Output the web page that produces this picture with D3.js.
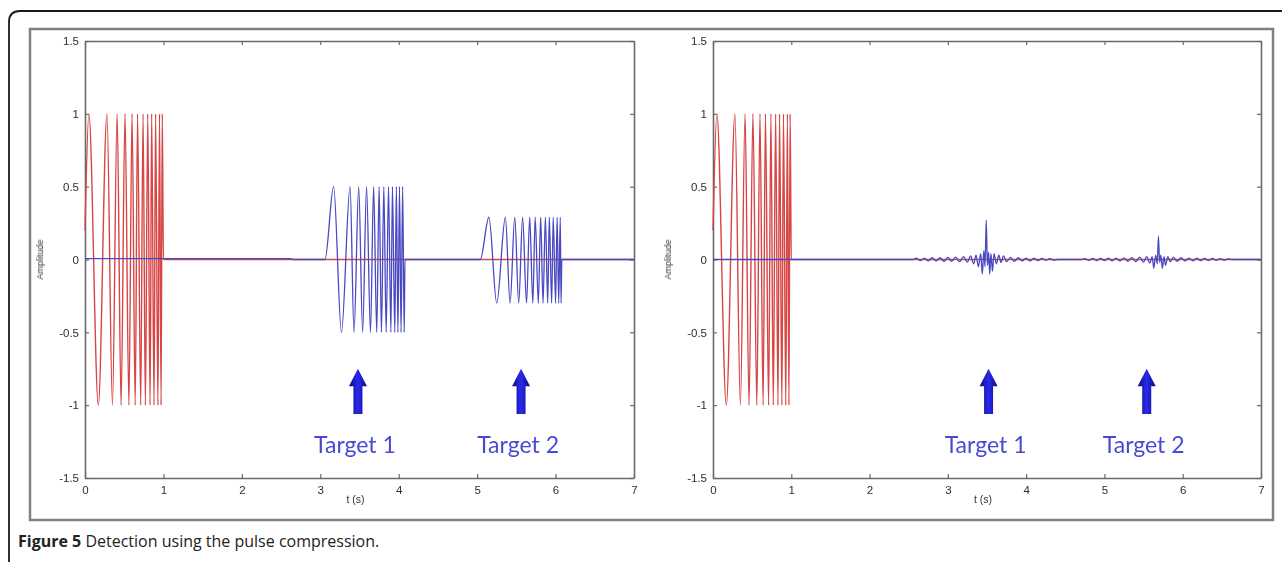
<!DOCTYPE html>
<html>
<head>
<meta charset="utf-8">
<script src="https://cdn.jsdelivr.net/npm/d3@7"></script>
<style>
  body { margin: 0; background: #fff; }
  svg { display: block; }
</style>
</head>
<body>
<script>
//////////////////////////////////////////////
// Data //////////////////////////////////////
//////////////////////////////////////////////
// transmitted chirp (red), extrema: [t, amplitude]
var txPulse = [
	[0, 0.2], [0.05, 1], [0.17, -1], [0.28, 1], [0.35, -1], [0.41, 1], [0.46, -1],
	[0.51, 1], [0.56, -1], [0.60, 1], [0.64, -1], [0.67, 1], [0.71, -1], [0.74, 1],
	[0.77, -1], [0.80, 1], [0.83, -1], [0.85, 1], [0.88, -1], [0.90, 1], [0.93, -1],
	[0.95, 1], [0.97, -1], [0.985, 1], [1.0, 0], [7, 0]
];

// received echoes before compression (blue, left panel)
var rxRaw = [
	[0, 0.006], [2.62, 0.006], [2.66, 0], [3.06, 0],
	[3.17, 0.5], [3.27, -0.5], [3.38, 0.5], [3.43, -0.5], [3.49, 0.5], [3.54, -0.5],
	[3.59, 0.5], [3.64, -0.5], [3.68, 0.5], [3.72, -0.5], [3.75, 0.5], [3.78, -0.5],
	[3.81, 0.5], [3.84, -0.5], [3.87, 0.5], [3.90, -0.5], [3.92, 0.5], [3.95, -0.5],
	[3.97, 0.5], [3.99, -0.5], [4.01, 0.5], [4.03, -0.5], [4.05, 0.5], [4.07, -0.5],
	[4.08, 0], [5.04, 0],
	[5.15, 0.29], [5.25, -0.3], [5.36, 0.29], [5.42, -0.3], [5.48, 0.29], [5.53, -0.3],
	[5.58, 0.29], [5.63, -0.3], [5.67, 0.29], [5.71, -0.3], [5.74, 0.29], [5.78, -0.3],
	[5.81, 0.29], [5.84, -0.3], [5.87, 0.29], [5.90, -0.3], [5.92, 0.29], [5.95, -0.3],
	[5.97, 0.29], [6.00, -0.3], [6.02, 0.29], [6.04, -0.3], [6.06, 0.29], [6.07, -0.3],
	[6.08, 0], [7, 0]
];

// compressed output (blue, right panel)
var rxCompressed = [
	[0, 0], [2.55, 0], [2.60, 0.01], [2.65, -0.008], [2.70, 0.01], [2.75, -0.01],
	[2.80, 0.012], [2.85, -0.01], [2.90, 0.012], [2.95, -0.012], [3.00, 0.014],
	[3.05, -0.012], [3.10, 0.016], [3.15, -0.015], [3.20, 0.02], [3.25, -0.018],
	[3.29, 0.025], [3.33, -0.03], [3.36, 0.03], [3.39, -0.05], [3.42, 0.04],
	[3.44, -0.1], [3.46, 0.06], [3.475, -0.05], [3.49, 0.27], [3.505, -0.04],
	[3.52, 0.05], [3.535, -0.1], [3.55, 0.04], [3.57, -0.08], [3.59, 0.04],
	[3.62, -0.03], [3.65, 0.03], [3.68, -0.02], [3.71, 0.025], [3.75, -0.015],
	[3.80, 0.015], [3.85, -0.012], [3.90, 0.012], [3.95, -0.01], [4.00, 0.01],
	[4.05, -0.01], [4.10, 0.01], [4.15, -0.008], [4.20, 0.008], [4.25, -0.006],
	[4.30, 0.006], [4.35, -0.004], [4.40, 0], [4.70, 0],
	[4.75, 0.006], [4.80, -0.006], [4.85, 0.007], [4.90, -0.007], [4.95, 0.008],
	[5.00, -0.008], [5.05, 0.009], [5.10, -0.009], [5.15, 0.01], [5.20, -0.01],
	[5.25, 0.011], [5.30, -0.012], [5.35, 0.013], [5.40, -0.014], [5.45, 0.016],
	[5.50, -0.018], [5.54, 0.02], [5.58, -0.025], [5.61, 0.02], [5.63, -0.06],
	[5.655, 0.03], [5.675, -0.03], [5.69, 0.16], [5.705, -0.02], [5.72, 0.03],
	[5.74, -0.06], [5.76, 0.02], [5.78, -0.04], [5.81, 0.02], [5.84, -0.015],
	[5.88, 0.015], [5.93, -0.012], [5.98, 0.012], [6.03, -0.01], [6.08, 0.01],
	[6.13, -0.009], [6.18, 0.009], [6.23, -0.008], [6.28, 0.008], [6.33, -0.007],
	[6.38, 0.007], [6.43, -0.006], [6.48, 0.006], [6.53, -0.005], [6.58, 0.004],
	[6.63, 0], [7, 0]
];

// tick values
var xTicks = [0, 1, 2, 3, 4, 5, 6, 7];
var yTicks = [-1.5, -1, -0.5, 0, 0.5, 1, 1.5];

// target annotations per panel: [t of arrow, label]
var leftTargets = [[3.48, "Target 1"], [5.56, "Target 2"]];
var rightTargets = [[3.52, "Target 1"], [5.54, "Target 2"]];

//////////////////////////////////////////////
// Chart Config /////////////////////////////
//////////////////////////////////////////////
var W = 1282, H = 562;

var svg = d3.select("body").append("svg")
	.attr("width", W)
	.attr("height", H);

var defs = svg.append("defs");

// slight blur to mimic the scanned figure
defs.append("filter").attr("id", "soft")
	.append("feGaussianBlur").attr("stdDeviation", 0.45);

// shading of the arrows
var grad = defs.append("linearGradient").attr("id", "arrowGrad")
	.attr("x1", "0%").attr("x2", "100%").attr("y1", "0%").attr("y2", "0%");
grad.append("stop").attr("offset", "0%").attr("stop-color", "#0c0c7a");
grad.append("stop").attr("offset", "50%").attr("stop-color", "#2a2af0");
grad.append("stop").attr("offset", "100%").attr("stop-color", "#0c0c7a");

svg.append("rect").attr("width", W).attr("height", H).attr("fill", "#fff");

// outer journal frame (rounded top-left corner)
svg.append("path")
	.attr("d", "M" + W + ",11 H20 Q9,11 9,22 V" + H)
	.attr("fill", "none")
	.attr("stroke", "#1a1a1a")
	.attr("stroke-width", 1.8);

// grey border around the screenshot
svg.append("rect")
	.attr("x", 30).attr("y", 29)
	.attr("width", 1243).attr("height", 491)
	.attr("fill", "none")
	.attr("stroke", "#808080")
	.attr("stroke-width", 2.5);

//////////////////////////////////////////////
// Drawing ///////////////////////////////////
//////////////////////////////////////////////
function drawPanel(left, right, blueData, targets) {
	var top = 41, bottom = 478;

	var xScale = d3.scaleLinear().domain([0, 7]).range([left, right]);
	var yScale = d3.scaleLinear().domain([-1.5, 1.5]).range([bottom, top]);

	var g = svg.append("g").attr("filter", "url(#soft)");

	var fmt = function(d) { return String(d); };

	// box axes, ticks pointing inwards like matlab
	var axB = g.append("g").attr("transform", "translate(0," + bottom + ")")
		.call(d3.axisBottom(xScale).tickValues(xTicks).tickFormat(fmt)
			.tickSizeInner(-4).tickSizeOuter(0).tickPadding(8));
	var axT = g.append("g").attr("transform", "translate(0," + top + ")")
		.call(d3.axisTop(xScale).tickValues(xTicks).tickFormat("")
			.tickSizeInner(-4).tickSizeOuter(0));
	var axL = g.append("g").attr("transform", "translate(" + left + ",0)")
		.call(d3.axisLeft(yScale).tickValues(yTicks).tickFormat(fmt)
			.tickSizeInner(-4).tickSizeOuter(0).tickPadding(6));
	var axR = g.append("g").attr("transform", "translate(" + right + ",0)")
		.call(d3.axisRight(yScale).tickValues(yTicks).tickFormat("")
			.tickSizeInner(-4).tickSizeOuter(0));

	[axB, axT, axL, axR].forEach(function(a) {
		a.selectAll(".domain").attr("stroke", "#6a6a6a").attr("stroke-width", 1.6);
		a.selectAll(".tick line").attr("stroke", "#6a6a6a").attr("stroke-width", 1.2);
		a.selectAll("text")
			.attr("fill", "#2e2e2e")
			.style("font-family", "'Liberation Sans', Arial, sans-serif")
			.style("font-size", "11.5px");
	});

	// axis labels
	g.append("text")
		.attr("x", (left + right) / 2 - 4).attr("y", 503)
		.attr("text-anchor", "middle")
		.attr("fill", "#333")
		.style("font-family", "'Liberation Sans', Arial, sans-serif")
		.style("font-size", "10.5px")
		.text("t (s)");

	g.append("text")
		.attr("transform", "translate(" + (left - 42) + "," + yScale(0) + ") rotate(-90)")
		.attr("text-anchor", "middle")
		.attr("fill", "#333")
		.style("font-family", "'Liberation Sans', Arial, sans-serif")
		.style("font-size", "9px")
		.text("Amplitude");

	var line = d3.line()
		.x(function(d) { return xScale(d[0]); })
		.y(function(d) { return yScale(d[1]); })
		.curve(d3.curveMonotoneX);

	// red transmitted chirp
	g.append("path").datum(txPulse)
		.attr("d", line)
		.attr("fill", "none")
		.attr("stroke", "#d84444")
		.attr("stroke-width", 1.4);

	// blue received signal
	g.append("path").datum(blueData)
		.attr("d", line)
		.attr("fill", "none")
		.attr("stroke", "#4848c4")
		.attr("stroke-width", 1.3);

	// arrows + labels
	targets.forEach(function(t) {
		var cx = xScale(t[0]);
		var yTop = yScale(-0.75), yHead = yScale(-0.87), yBot = yScale(-1.06);
		g.append("path")
			.attr("d", "M" + cx + "," + yTop +
				" L" + (cx + 9) + "," + yHead +
				" L" + (cx + 4.5) + "," + yHead +
				" L" + (cx + 4.5) + "," + yBot +
				" L" + (cx - 4.5) + "," + yBot +
				" L" + (cx - 4.5) + "," + yHead +
				" L" + (cx - 9) + "," + yHead + " Z")
			.attr("fill", "url(#arrowGrad)");

		g.append("text")
			.attr("x", cx - 3).attr("y", yScale(-1.325))
			.attr("text-anchor", "middle")
			.attr("fill", "#4a4ad6")
			.style("font-family", "Lato, 'Open Sans', sans-serif")
			.style("font-size", "23px")
			.text(t[1]);
	});
}

drawPanel(85, 634, rxRaw, leftTargets);
drawPanel(713, 1261, rxCompressed, rightTargets);

// caption
var cap = svg.append("text")
	.attr("x", 18).attr("y", 547)
	.attr("fill", "#222")
	.style("font-family", "'Open Sans', 'Noto Sans', sans-serif")
	.style("font-size", "16px");
cap.append("tspan").style("font-weight", "bold").text("Figure 5");
cap.append("tspan").text(" Detection using the pulse compression.");
</script>
</body>
</html>
